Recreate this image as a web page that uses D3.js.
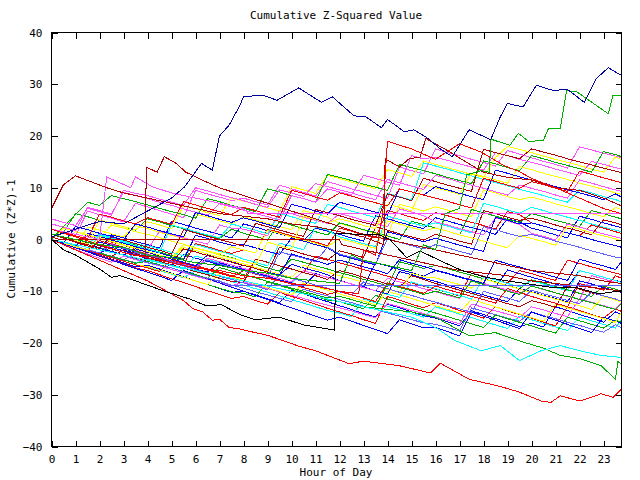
<!DOCTYPE html>
<html><head><meta charset="utf-8">
<script src="https://cdn.jsdelivr.net/npm/d3@7/dist/d3.min.js"></script>
<style>
body{margin:0;background:#fff}
text{font-family:"DejaVu Sans Mono","Liberation Mono",monospace;font-size:11px;fill:#000}
</style>
</head><body><svg id="chart" width="640" height="480"></svg>
<script>
// ---------- text / ticks ----------
const titleText = "Cumulative Z-Squared Value";
const xLabelText = "Hour of Day";
const yLabelText = "Cumulative (Z*Z)-1";
const xTickValues = [0,1,2,3,4,5,6,7,8,9,10,11,12,13,14,15,16,17,18,19,20,21,22,23];
const yTickValues = [-40,-30,-20,-10,0,10,20,30,40];
const xDomain = [0, 23.75];
const yDomain = [-40, 40];

// sampling hours of the half-hour series (0, 0.5, ... 23.5, 23.75)
const halfHours = d3.range(0, 24, 0.5).concat([23.75]);

// ---------- half-hour series ----------
const u1 = [2,1.3,0.6,5.5,4.8,4.1,3.4,7.0, 6.3,5.6,4.9,4.2,9.5,8.8,8.2,7.5, 8.0,7.3,6.7,10.5,9.8,9.1,8.4,11.2, 10.5,9.8,9.2,8.5,7.9,14.0,13.3,12.7, 17.5,16.8,16.2,15.5,14.9,14.2,17.2,16.5, 15.8,15.1,14.5,13.8,17.9,17.3,16.7,16.1, 15.8];
const u2 = [1,0.4,-0.2,-0.9,3.8,3.1,2.5,1.9, 3.4,2.8,2.1,6.5,5.9,5.2,4.6,8.0, 7.4,6.8,6.1,5.5,10.2,9.6,8.9,12.4, 11.8,11.1,10.5,9.8,13.5,12.9,12.2,15.2, 14.5,13.9,13.2,12.6,12.0,15.8,18.0,17.4, 16.8,16.1,15.5,14.9,14.3,13.6,13.0,16.0, 15.4];
const u3 = [0,2.5,4.8,7.2,6.6,8.5,7.9,7.3, 6.7,6.0,5.4,4.8,4.1,7.9,7.3,6.6, 6.0,5.4,9.8,9.2,8.5,7.9,7.2,12.6, 12.0,11.4,10.7,10.1,9.5,14.5,13.9,13.3, 12.7,12.0,11.4,10.8,15.2,14.6,13.9,13.3, 16.2,15.6,14.9,14.3,13.7,13.0,17.0,16.4, 16.0];
const u4 = [3,2.4,1.7,6.2,5.6,4.9,9.1,8.5, 7.9,7.2,6.6,5.9,5.3,4.7,6.9,6.3, 5.7,5.0,4.4,3.8,8.5,7.9,7.2,9.8, 9.2,8.6,12.4,11.8,11.1,10.5,16.2,15.6, 15.9,15.3,14.6,14.0,13.4,16.8,16.2,15.5, 14.9,14.3,13.6,13.0,12.4,15.1,14.5,13.9, 13.6];
const u5 = [0,-0.7,-1.3,-2.0,0.8,0.2,-0.5,-1.2, -1.8,-2.5,2.8,2.2,1.5,0.9,0.3,3.0, 2.4,1.8,1.1,5.0,4.4,3.7,3.1,6.8, 6.2,5.5,4.9,4.2,8.9,8.3,7.6,14.8, 14.2,13.6,12.9,12.3,11.6,11.0,10.4,9.7, 9.1,8.5,7.8,7.2,9.6,9.0,8.3,7.7, 7.3];
const u6 = [1,0.3,-0.4,-1.0,-1.7,0.5,-0.1,-0.8, -1.5,-2.1,-2.8,1.9,1.3,0.6,0.0,-0.6, -1.3,3.1,2.5,1.8,1.2,0.6,5.8,5.2, 4.6,3.9,3.3,2.7,8.8,8.2,7.5,11.8, 11.2,10.5,9.9,9.3,17.4,16.8,16.2,15.6, 17.5,16.9,16.3,15.6,15.0,14.4,13.8,13.2, 12.9];
const u7 = [0,-0.7,-1.4,-2.0,0.4,-0.3,-1.0,-1.6, -2.3,-3.0,-3.6,-1.0,-1.7,-2.3,-3.0,-3.6, -4.2,-4.8,-0.5,-1.2,-1.8,4.5,3.9,3.2, 4.0,3.4,2.7,2.1,6.8,6.2,5.5,10.6, 10.0,9.4,8.7,12.8,12.2,11.5,10.9,14.1, 13.5,12.8,12.2,11.6,10.9,10.3,9.7,9.0, 8.7];
const u8 = [4,3.3,2.7,6.0,5.4,4.7,9.5,8.9, 8.5,7.8,7.2,6.6,10.0,9.4,8.7,8.1, 7.5,6.8,6.2,9.6,9.0,8.3,10.8,10.2, 9.6,9.0,8.3,7.7,11.6,11.0,10.3,9.7, 12.4,11.8,11.1,10.5,9.9,9.2,8.6,10.5, 9.9,9.3,8.6,8.0,11.5,10.9,10.2,9.6, 9.3];
const u9 = [0,-0.7,2.5,1.9,1.2,0.6,-0.1,3.0, 2.4,1.7,1.1,0.5,5.2,4.6,3.9,3.3, 4.2,3.6,2.9,2.3,6.8,6.2,5.5,4.9, 7.2,6.6,5.9,5.3,4.7,9.8,9.2,8.6, 10.2,9.6,8.9,8.3,7.7,13.4,12.8,12.1, 11.5,10.9,10.2,9.6,9.0,8.4,7.7,8.8, 8.2];
const u10 = [2,1.4,0.7,0.1,4.9,4.3,3.6,3.0, 4.2,3.6,2.9,7.3,6.7,6.0,5.4,4.8, 6.2,5.6,4.9,4.3,9.5,8.9,8.2,7.6, 9.0,8.4,7.7,7.1,6.5,9.8,9.2,8.6, 8.0,7.4,6.7,6.1,11.8,11.2,10.5,9.9, 11.2,10.6,9.9,9.3,13.2,12.6,11.9,11.3, 11.0];
const m1 = [0,-0.6,-1.3,2.4,1.8,1.1,0.5,2.7, 2.1,1.4,0.8,0.2,4.9,4.3,3.6,3.0, 4.4,3.8,3.1,2.5,1.9,5.6,5.0,4.3, 3.1,2.5,1.8,1.2,0.6,6.8,6.2,5.5, 6.3,5.7,5.0,4.4,9.6,9.0,8.3,7.7, 8.2,7.6,6.9,6.3,5.7,5.0,4.4,6.2, 5.8];
const m2 = [1,0.3,-0.3,-1.0,-1.6,0.9,0.3,-0.4, -1.0,-1.7,3.5,2.9,2.2,1.6,1.0,0.3, 3.0,2.4,1.7,1.1,0.5,-0.2,2.2,1.6, 1.0,0.3,-0.3,4.6,4.0,3.3,2.7,2.1, 4.2,3.6,2.9,2.3,1.7,1.0,4.0,3.4, 2.2,1.6,0.9,0.3,4.5,3.9,3.2,2.6, 2.3];
const m3 = [2,1.4,5.0,4.4,3.7,3.1,2.5,1.8, 4.0,3.4,2.7,2.1,1.5,0.8,0.2,2.0, 1.2,0.6,-0.1,3.4,2.8,2.1,1.5,0.9, 3.2,2.6,1.9,1.3,0.7,0.0,3.5,2.9, 2.2,1.6,0.9,5.8,5.2,4.5,3.9,3.3, 5.0,4.4,3.7,3.1,2.5,5.6,5.0,4.3, 4.0];
const m4 = [0,-0.7,-1.3,-2.0,-0.2,-0.9,-1.5,-2.2, -2.9,-3.5,-4.2,-4.8,-0.8,-1.4,-2.1,-2.7, -2.0,-2.6,2.0,1.4,0.7,0.1,-0.5,-1.2, 2.2,1.6,0.9,0.3,5.6,5.0,4.3,3.7, 5.2,4.6,3.9,3.3,2.7,2.0,5.4,4.8, 3.2,2.6,1.9,1.3,0.7,2.8,2.2,1.5, 1.2];
const m5 = [1,0.4,-0.3,-0.9,1.0,0.4,-0.3,-0.9, -1.2,-1.8,-2.5,-3.1,-1.0,-1.6,-2.3,-2.9, -3.8,-4.4,-5.1,-0.7,-1.3,-2.0,2.4,1.8, 0.5,-0.1,-0.8,-1.4,4.5,3.9,3.2,2.6, 3.2,2.6,1.9,1.3,7.0,6.4,5.7,5.1, 6.2,5.6,4.9,4.3,3.7,3.0,2.4,1.8, 1.5];
const m6 = [0,-0.6,-1.3,-1.9,0.3,-0.3,-1.0,-1.6, -2.0,1.6,1.0,0.3,-0.3,-0.9,2.8,2.2, 2.0,1.4,0.7,5.6,5.0,4.3,3.7,3.1, 5.0,4.4,3.7,3.1,2.5,5.9,5.3,4.6, 3.4,2.8,2.1,1.5,0.9,4.2,3.6,2.9, 1.2,0.6,-0.1,3.0,2.4,1.7,1.1,0.5, 0.2];
const m7 = [0,-0.7,-1.4,-0.5,-1.2,-1.8,-2.5,-3.1, -3.2,-3.8,-4.5,-1.8,-2.4,-3.1,-3.7,-4.4, -5.0,-5.6,-6.3,-1.5,-2.1,-2.8,-3.4,-4.0, -2.2,-2.8,-3.5,2.4,1.8,1.1,0.5,-0.1, 1.0,0.4,-0.3,-0.9,5.6,5.0,4.3,3.7, 4.1,3.5,2.8,2.2,1.6,0.9,3.8,3.2, 2.8];
const m8 = [0,-0.7,-1.3,1.2,0.6,-0.1,-0.7,-1.4, -2.0,-2.6,-3.3,-3.9,0.8,0.2,-0.5,-1.1, -1.0,-1.6,-2.3,-2.9,0.3,-0.3,-1.0,-1.6, -3.0,-3.6,-4.3,-4.9,1.5,0.9,0.2,-0.4, 0.2,-0.4,-1.1,-1.7,-2.3,4.3,3.7,3.0, 3.2,2.6,1.9,1.3,0.7,0.0,-0.6,-1.2, -1.5];
const m9 = [0,2.2,1.6,0.9,0.3,2.8,2.2,1.5, 1.0,0.4,-0.3,-0.9,-1.6,-2.2,-2.8,-1.4, -2.0,-2.6,1.8,1.2,0.5,-0.1,-0.7,-1.4, 0.2,-0.4,-1.1,-1.7,3.6,3.0,2.3,1.7, 2.2,1.6,0.9,0.3,-0.3,-1.0,-1.6,0.8, 0.2,-0.4,-1.1,2.6,2.0,1.3,0.7,0.1, -0.3];
const m10 = [0,-0.7,-1.3,-2.0,-2.6,-1.0,-1.7,-2.3, -3.0,-3.6,-4.3,-4.9,-5.5,-4.0,-4.7,-5.3, -6.0,-6.6,-7.3,-2.4,-3.0,-3.6,-4.3,-1.5, -2.8,-3.4,-4.1,-4.7,0.1,-0.5,-1.2,-1.8, -1.0,-1.6,-2.3,-2.9,2.5,1.9,1.2,0.6, 1.0,0.4,-0.3,-0.9,-1.5,-2.2,-2.8,-3.4, -3.6];
const c1 = [0,-0.7,-1.4,-2.0,-2.7,-1.5,-2.2,-2.9, -3.8,-4.4,-5.1,-2.9,-3.6,-4.2,-4.9,-5.5, -5.0,-5.6,-6.3,-6.9,-4.8,-5.5,-6.1,-6.8, -8.0,-8.6,-9.3,-4.5,-5.1,-5.8,-6.4,-7.1, -6.0,-6.6,-7.3,-7.9,-8.6,-9.2,-5.9,-6.6, -7.3,-7.9,-8.6,-9.2,-6.0,-6.6,-7.3,-7.9, -8.2];
const c2 = [0,-0.7,-1.3,0.8,0.2,-0.5,-1.1,-1.8, -2.4,-3.1,-3.7,-4.4,-5.0,-5.7,-6.3,-7.0, -7.6,-3.8,-4.4,-5.1,-5.7,-6.4,-3.2,-3.8, -4.5,-5.1,-5.8,-6.4,-7.1,-7.7,-8.4,-9.0, -9.6,-10.2,-10.9,-6.5,-7.1,-7.8,-8.4,-6.0, -6.6,-7.3,-7.9,-4.0,-4.6,-5.3,-5.9,-6.5, -6.8];
const c3 = [1,0.3,-0.3,-1.0,-1.6,-2.3,-0.4,-1.1, -1.8,-2.4,-3.1,-3.7,-1.6,-2.2,-2.9,-3.5, -4.2,-4.8,-5.5,-6.1,-3.8,-4.4,-5.1,-5.7, -6.4,-7.0,-7.7,-8.3,-9.0,-4.3,-4.9,-5.6, -5.0,-5.6,-6.3,-6.9,-7.6,-8.2,-8.9,-9.5, -7.8,-8.4,-9.1,-9.7,-10.4,-11.0,-9.0,-9.6, -10.0];
const c4 = [0,-0.7,-1.3,-2.0,-2.6,-3.3,-3.9,-4.6, -3.8,-4.4,-5.1,-5.7,-3.2,-3.9,-4.5,-5.2, -5.8,-6.5,-7.1,-7.8,-8.4,-6.0,-6.7,-7.3, -8.0,-8.6,-9.3,-9.9,-10.6,-11.2,-8.2,-8.9, -9.5,-10.2,-10.8,-11.5,-7.2,-7.8,-8.5,-9.1, -8.0,-8.6,-9.3,-9.9,-6.0,-6.6,-7.3,-7.9, -8.3];
const c5 = [0,-0.6,-1.3,-1.9,-0.5,-1.1,-1.8,-2.4, -3.1,-3.7,-4.4,-5.0,-5.7,-6.3,-4.5,-5.2, -5.8,-6.5,-7.1,-7.8,-8.4,-9.1,-6.6,-7.3, -7.9,-8.6,-9.2,-9.9,-10.5,-6.2,-6.8,-7.5, -8.1,-8.8,-9.4,-10.1,-10.7,-11.4,-12.0,-9.5, -10.1,-10.8,-11.4,-12.1,-8.0,-8.6,-9.3,-9.9, -10.2];
const c6 = [0,-0.6,-1.3,-1.9,-2.6,-0.8,-1.5,-2.1, -2.8,-3.4,-4.1,-4.7,-5.4,-3.6,-4.3,-4.9, -5.6,-6.2,-6.9,-7.5,-8.2,-6.0,-6.7,-7.3, -8.0,-8.6,-9.3,-9.9,-7.5,-8.2,-8.8,-9.5, -10.1,-10.8,-11.4,-7.8,-8.5,-9.1,-9.8,-10.4, -9.0,-9.7,-10.3,-11.0,-11.6,-7.0,-7.6,-8.3, -8.6];
const c7 = [0,-0.7,-1.4,-2.0,-2.7,-3.3,-2.0,-2.7, -3.6,-4.2,-4.9,-5.5,-6.2,-6.8,-7.5,-8.1, -8.3,-3.8,-4.4,-5.1,-5.7,-6.4,-7.0,-7.7, -6.0,-6.6,-7.3,-7.9,-8.6,-9.2,-7.0,-7.7, -8.5,-9.1,-9.8,-10.4,-11.1,-11.7,-12.4,-13.0, -11.8,-12.4,-13.1,-9.0,-9.6,-10.3,-10.9,-11.6, -12.0];
const c8 = [0,-0.6,1.5,0.9,0.2,-0.4,-1.1,-1.7, -2.4,-3.0,-3.7,-1.5,-2.1,-2.8,-3.4,-4.1, -4.7,-5.4,-6.0,-6.7,-7.3,-5.0,-5.7,-6.3, -7.0,-7.6,-8.3,-8.9,-9.6,-10.2,-6.5,-7.2, -7.4,-8.1,-8.7,-9.4,-7.6,-8.3,-8.9,-9.6, -10.2,-10.9,-11.5,-12.2,-12.8,-13.5,-11.0,-11.7, -12.1];
const c9 = [0,-0.7,-1.3,-2.0,-2.7,-3.3,-4.0,-2.5, -3.2,-3.8,-4.5,-5.1,-5.8,-6.4,-7.1,-7.7, -8.4,-9.0,-9.7,-6.8,-7.5,-8.1,-8.8,-9.4, -10.1,-10.7,-8.2,-8.9,-9.5,-10.2,-10.8,-11.5, -12.1,-12.8,-13.4,-14.1,-10.0,-10.7,-11.3,-12.0, -9.8,-10.5,-11.1,-11.8,-12.4,-10.2,-10.9,-11.5, -11.9];
const c10 = [0,-0.7,-1.4,-2.1,-2.8,-3.5,-4.2,-4.9, -5.5,-6.2,-3.9,-4.6,-5.2,-5.9,-6.5,-7.2, -6.0,-6.7,-7.3,-8.0,-8.6,-9.3,-9.9,-10.6, -10.0,-10.7,-11.3,-12.0,-8.4,-9.1,-9.7,-10.4, -9.0,-9.7,-10.3,-11.0,-11.6,-12.3,-9.5,-10.2, -11.0,-11.7,-12.3,-13.0,-8.5,-9.2,-9.8,-7.0, -7.5];
const c11 = [1,0.3,-0.4,-1.0,-1.7,-2.3,-3.0,-1.8, -2.5,-3.1,-3.8,-4.4,-5.1,-3.0,-3.7,-4.3, -5.0,-5.6,-6.3,-6.9,-2.8,-3.5,-4.1,-4.8, -4.0,-4.6,-5.3,-5.9,-6.6,-3.9,-4.6,-5.2, -5.9,-6.5,-7.2,-7.8,-8.5,-4.0,-4.7,-5.3, -6.0,-6.6,-7.3,-7.9,-3.8,-4.5,-5.1,-5.8, -4.3];
const c12 = [0,-0.7,-1.3,-2.0,-2.6,-3.3,-3.9,-4.6, -4.2,-4.9,-5.5,-6.2,-6.8,-7.5,-5.4,-6.1, -6.8,-7.4,-8.1,-8.7,-9.4,-10.0,-10.7,-11.3, -11.0,-11.6,-12.3,-12.9,-8.6,-9.3,-9.9,-10.6, -10.0,-10.6,-11.3,-8.0,-8.7,-9.3,-10.0,-10.6, -9.0,-9.6,-10.3,-10.9,-11.6,-12.2,-12.9,-13.5, -12.4];
const lo1 = [0,-0.8,-1.5,-2.3,-3.0,-3.8,-4.5,-5.3, -5.0,-5.7,-6.5,-7.2,-8.0,-8.7,-9.5,-10.2, -10.0,-10.7,-11.5,-12.2,-9.8,-10.5,-11.3,-12.0, -12.8,-13.5,-14.3,-15.0,-12.5,-13.2,-14.0,-14.7, -15.2,-15.9,-16.7,-13.8,-14.5,-15.3,-16.0,-16.8, -16.2,-16.9,-13.0,-13.7,-14.5,-15.2,-16.0,-14.0, -14.5];
const lo2 = [0,-0.7,-1.4,-2.1,-2.8,-3.5,-4.2,-4.9, -5.3,-6.0,-6.7,-7.4,-6.0,-6.7,-7.4,-8.1, -8.8,-9.5,-10.2,-10.9,-11.6,-12.3,-13.0,-13.7, -14.2,-14.9,-11.5,-12.2,-12.9,-13.6,-14.3,-15.0, -13.0,-13.7,-14.4,-15.1,-15.8,-16.5,-17.2,-14.8, -15.5,-16.2,-16.9,-17.6,-15.0,-15.7,-16.4,-17.1, -15.5];
const lo3 = [0,-0.6,-1.3,-1.9,-2.6,-3.2,-3.9,-4.5, -4.2,-4.9,-5.5,-6.2,-6.8,-7.5,-8.1,-8.8, -9.4,-10.1,-10.7,-11.4,-12.0,-9.6,-10.3,-10.9, -11.6,-12.2,-12.9,-13.5,-14.2,-14.8,-15.5,-16.1, -16.4,-17.0,-17.7,-13.2,-13.9,-14.5,-15.2,-15.8, -14.0,-14.7,-15.3,-16.0,-16.6,-17.3,-17.9,-16.5, -17.0];
const lo4 = [0,-0.7,-1.4,-2.1,-2.8,-3.5,-4.2,-4.9, -5.2,-5.9,-6.6,-7.3,-8.0,-8.7,-9.4,-10.1, -10.4,-11.1,-8.2,-8.9,-9.6,-10.3,-11.0,-11.7, -12.0,-12.7,-13.4,-10.8,-11.5,-12.2,-12.9,-13.6, -14.2,-14.9,-15.6,-16.3,-17.0,-14.6,-15.3,-16.0, -16.7,-17.4,-18.1,-15.0,-15.7,-16.4,-17.1,-15.6, -16.0];
const lo5 = [0,-0.8,-1.6,-2.4,-3.1,-3.9,-4.7,-5.5, -6.0,-6.8,-7.6,-8.3,-9.1,-9.9,-10.6,-11.4, -11.0,-11.8,-12.5,-10.2,-11.0,-11.7,-12.5,-13.3, -14.0,-14.7,-15.5,-16.2,-11.0,-11.7,-12.5,-13.2, -12.2,-12.9,-13.7,-14.4,-15.2,-13.0,-13.8,-14.5, -15.2,-16.0,-16.7,-13.0,-13.7,-14.5,-15.2,-13.4, -13.9];
const lo6 = [0,-1.0,-1.9,-2.8,-3.6,-4.4,-3.2,-3.9, -4.5,-5.1,-5.8,-6.4,-7.1,-7.7,-8.4,-9.0, -8.2,-8.8,-9.5,-10.1,-10.8,-11.4,-12.1,-12.7, -13.2,-13.8,-14.5,-15.1,-12.4,-13.0,-13.7,-14.3, -15.0,-15.6,-16.3,-12.5,-13.1,-13.8,-14.4,-15.1, -13.0,-13.6,-14.3,-14.9,-11.5,-12.1,-12.8,-13.4, -12.2];
const lo7 = [0,-0.8,-1.6,-2.4,-3.2,-4.0,-4.8,-5.6, -6.3,-7.1,-7.9,-6.0,-6.8,-7.6,-8.4,-9.2, -10.0,-10.8,-11.6,-12.4,-13.2,-14.0,-14.8,-15.6, -15.0,-15.8,-16.6,-17.4,-18.2,-15.5,-16.3,-17.1, -17.0,-17.8,-18.6,-14.0,-14.8,-15.6,-16.4,-17.2, -14.0,-14.8,-15.6,-16.4,-17.2,-18.0,-15.0,-15.8, -16.2];
const lo8 = [0,-0.7,-1.4,-2.1,-2.8,-3.5,-4.2,-4.9, -5.2,-5.9,-6.6,-7.3,-8.0,-8.7,-6.5,-7.2, -7.9,-8.6,-9.3,-10.0,-10.7,-8.4,-9.1,-9.8, -10.5,-11.2,-11.9,-12.6,-10.0,-10.7,-11.4,-12.1, -12.8,-13.5,-14.2,-11.6,-12.3,-13.0,-13.7,-14.4, -15.1,-15.8,-12.5,-13.2,-13.9,-14.6,-15.3,-16.0, -14.0];

const gridSeries = [lo1,lo2,lo3,lo4,lo5,lo6,lo7,lo8,c1,c2,c3,c4,c5,c6,c7,c8,c9,c10,c11,c12,m1,m2,m3,m4,m5,m6,m7,m8,m9,m10,u1,u2,u3,u4,u5,u6,u7,u8,u9,u10];
const gridColors = ["#0000ff","#00ffff","#6060ff","#00b000","#ff0000","#ff50ff","#0000ff","#ffff00",
  "#0000ff","#ff0000","#00b000","#00ffff","#0000ff","#ff50ff","#b00000","#ffff00","#6060ff","#ff0000","#0000ff","#00b000",
  "#ffff00","#0000ff","#00b000","#ff0000","#00ffff","#ff50ff","#b00000","#0000ff","#ffff00","#6060ff",
  "#ff50ff","#ffff00","#00b000","#ff50ff","#00ffff","#b00000","#ffff00","#ff50ff","#0000ff","#ff0000"];

// ---------- irregular series: [hour, value] ----------
const sTopBlue = [[0,0.5],[1,2],[2,3.5],[3,3],[4,5.5],[5,8],[5.55,10.2],[6.25,14.7],[6.7,13.4],[7,20],[7.4,22.1],[7.85,25.9],[8,27.6],[8.8,27.9],[9.4,26.9],[10.3,29.3],[11.25,26.5],[11.7,27.6],[12.6,23.9],[13.1,23.7],[13.75,21.6],[14,23.2],[14.7,20.8],[15.1,21.2],[15.7,19.5],[16.2,17.5],[16.7,16],[17.4,21.2],[18.3,19.3],[18.7,23.7],[19,26.3],[19.65,25.6],[20.2,29.8],[20.9,28.8],[21.5,29],[22.2,26.5],[22.7,31.1],[23.2,33.2],[23.75,31.7]];
const sGreenUp = [[0,1],[1,0],[2,-1],[3,-1.5],[4,-3],[5,-3.5],[6,-4.5],[7,-5],[8,-6],[9,-6.5],[10,-7.5],[11,-8],[12,-8.5],[12.5,-3],[13,-4],[14,-5],[15,-6],[15.5,-1],[16,-2],[16.4,5],[17,6],[17.3,12.5],[17.9,13.3],[18.25,13],[18.3,19.4],[19.1,18.2],[19.45,20.5],[19.9,18.9],[20.5,19.2],[20.7,21.4],[21.2,21.4],[21.46,28.8],[21.9,28.5],[22.3,27.2],[23.2,24.3],[23.4,27.9],[23.75,27.9]];
const sBlack = [[0,0],[0.5,-2],[1,-3],[2,-5.7],[2.5,-7.3],[2.85,-7],[3.5,-8],[4.65,-9.9],[5.76,-11.5],[6.45,-12.8],[7.08,-12.6],[7.85,-14.5],[8.5,-15.5],[9.5,-15],[10.5,-16.5],[11.8,-17.5],[11.85,1.1],[13.6,1],[14.1,0],[14.8,-3.5],[15.35,-2.2],[16.2,-4.1],[17.1,-6],[18.1,-7.3],[19,-8],[19.9,-8.6],[20.9,-9.3],[21.9,-9.3],[22.8,-10.5],[23.75,-9.9]];
const sRedLow = [[0,0],[1,-2],[2,-4],[3,-6],[4,-8],[5,-10.5],[5.5,-11.8],[5.9,-13.4],[6.3,-14],[6.7,-15.6],[7,-15.4],[7.4,-17],[7.85,-17.3],[8.2,-17.7],[9,-18.5],[10.3,-20.6],[11,-21.5],[12.4,-24],[13,-23.5],[14.5,-24.4],[15.8,-25.8],[16.2,-23.9],[17.4,-27],[18.7,-28.4],[19.5,-29.5],[20.4,-31.2],[20.8,-31.5],[21.2,-30.2],[22,-31.2],[22.5,-30.5],[22.9,-29.8],[23.4,-30.5],[23.75,-28.9]];
const sCyanLow = [[0,0],[1,-1],[2,-2],[3,-3],[4,-4],[5,-5],[6,-6],[7,-7],[8,-8],[9,-9],[10,-10],[11,-11],[12,-12],[13,-13],[14,-14],[15,-15],[16,-17],[16.8,-19.5],[17.9,-21.5],[18.7,-20.5],[19.5,-23.4],[20.4,-21.5],[21.2,-20.5],[22,-21.5],[22.9,-22.4],[23.75,-22.8]];
const sGreenLow = [[0,0],[1,-1],[2,-2],[3,-3],[4,-4],[5,-5],[6,-6],[7,-7],[8,-8],[9,-9],[10,-10],[11,-11],[12,-12],[13,-13],[14,-13.5],[15,-14],[16,-15],[17.4,-18.6],[18.5,-18],[19.5,-19.6],[20.5,-21],[21.2,-22.4],[22,-23],[22.9,-24.4],[23.5,-27],[23.6,-23.6],[23.75,-24]];
const sRedHigh = [[0,2],[1,0.5],[2,-1],[3,-2.5],[4,-3.5],[5,-4.5],[6,-5.5],[7,-6],[8,-7],[9,-7.5],[10,-8.5],[11,-9],[12,-10],[12.8,-10.5],[13,-2],[13.5,-3],[13.8,5],[14,19],[15,17.5],[16,15.5],[17,18.5],[17.9,16.9],[18.8,14.4],[19.5,13.1],[20,11.8],[21,10],[22,8],[23,6],[23.75,5]];
const sDarkRedA = [[0,6],[0.5,10.6],[1,12.3],[2.3,10],[3,9],[4,8],[5,7],[6,6],[7,5],[8,4.5],[9,4],[10,3],[11,2.5],[12,1.5],[13,0.5],[13.85,-1],[13.9,15.6],[14.5,14],[14.9,15.6],[15.35,15.9],[15.6,19.5],[16.5,17.2],[17.3,14.9],[18,13],[19,12],[20,11.5],[21,10],[22,9.5],[23,8],[23.75,6.5]];
const sDarkRedB = [[0,1],[1,-0.5],[2,-2],[3,-3],[3.9,-4],[3.95,14],[4.4,13],[4.7,16],[5.2,14.7],[5.6,13],[6.46,11.1],[7,10],[8,8.5],[9,7],[10,5.5],[11,4],[12,2.5],[13,1],[14,0],[15,-1],[16,-2],[17,-3],[18,-4],[19,-5],[20,-6],[21,-6.5],[22,-7],[23,-8],[23.75,-8.5]];
const sMagentaFlat = [[0,2],[1,1],[2,0],[2.3,12.1],[3.3,10],[3.5,12.1],[4.2,10.2],[5,9],[6,8],[7,7],[8,6],[8.2,5],[23.75,5]];
const sDarkRedFlat = [[0,0.5],[0.35,0],[12,0],[12.1,-1],[13,-2],[14,-3],[15,-4],[16,-5],[17,-6],[18,-6.5],[19,-7],[20,-8],[21,-8.5],[22,-9],[23,-9.5],[23.75,-10]];
const sSlateFlat = [[0,0],[1,-1],[2,-2],[3,-3],[4,-4.5],[5,-5.5],[6,-7],[7,-8],[7.4,-8.8],[23.75,-8.8]];

const pairSeries = [sDarkRedFlat,sSlateFlat,sMagentaFlat,sDarkRedB,sDarkRedA,sRedHigh,sGreenLow,sCyanLow,sRedLow,sBlack,sGreenUp,sTopBlue];
const pairColors = ["#b00000","#6060ff","#ff50ff","#b00000","#b00000","#ff0000","#00b000","#00ffff","#ff0000","#000000","#00b000","#0000a0"];

// ---------- drawing ----------
const svg = d3.select("#chart");
const L = 51.5, R = 621.5, T = 32.5, B = 446.5;
const x = d3.scaleLinear().domain(xDomain).range([L, R]);
const y = d3.scaleLinear().domain(yDomain).range([B, T]);

svg.append("rect").attr("width",640).attr("height",480).attr("fill","#fff");
svg.append("defs").append("clipPath").attr("id","clip")
  .append("rect").attr("x",L).attr("y",T).attr("width",R-L).attr("height",B-T);

const line = d3.line().x(d=>x(d[0])).y(d=>y(d[1]));
const g = svg.append("g").attr("clip-path","url(#clip)");
function drawPath(pts, color){
  g.append("path").attr("d",line(pts)).attr("fill","none")
   .attr("stroke",color).attr("stroke-width",1)
   .attr("shape-rendering","crispEdges");
}
gridSeries.forEach((s,i)=>{
  const pts = s.map((v,j)=>[halfHours[j], v]).filter(p=>p[0]!==undefined);
  drawPath(pts, gridColors[i]);
});
pairSeries.forEach((s,i)=>drawPath(s, pairColors[i]));

// axes (gnuplot style: inward ticks, mirrored)
const tl = 6;
const axB = svg.append("g").attr("transform",`translate(0,${B})`)
  .call(d3.axisBottom(x).tickValues(xTickValues).tickSize(-tl).tickPadding(9).tickFormat(d3.format("d")));
const axT = svg.append("g").attr("transform",`translate(0,${T})`)
  .call(d3.axisTop(x).tickValues(xTickValues).tickSize(-tl).tickFormat(""));
const axL = svg.append("g").attr("transform",`translate(${L},0)`)
  .call(d3.axisLeft(y).tickValues(yTickValues).tickSize(-tl).tickPadding(9).tickFormat(d3.format("d")));
const axR = svg.append("g").attr("transform",`translate(${R},0)`)
  .call(d3.axisRight(y).tickValues(yTickValues).tickSize(-tl).tickFormat(""));
[axB,axT,axL,axR].forEach(a=>{
  a.select(".domain").remove();
  a.selectAll("line").attr("stroke","#000").attr("shape-rendering","crispEdges");
  a.selectAll("text").attr("font-family",null).attr("font-size",null).attr("fill","#000");
});
svg.append("rect").attr("x",L).attr("y",T).attr("width",R-L).attr("height",B-T)
  .attr("fill","none").attr("stroke","#000").attr("shape-rendering","crispEdges");

svg.append("text").attr("x",336).attr("y",19).attr("text-anchor","middle").text(titleText);
svg.append("text").attr("x",336).attr("y",476).attr("text-anchor","middle").text(xLabelText);
svg.append("text").attr("transform","translate(15,239) rotate(-90)").attr("text-anchor","middle").text(yLabelText);
</script></body></html>
